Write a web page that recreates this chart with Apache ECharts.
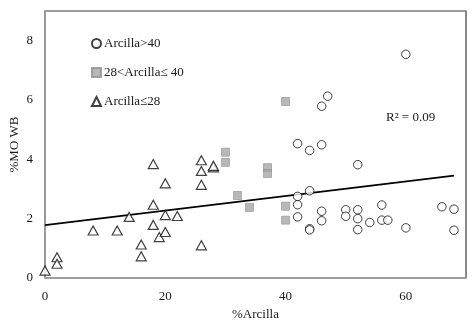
<!DOCTYPE html>
<html>
<head>
<meta charset="utf-8">
<script src="https://cdn.jsdelivr.net/npm/echarts@6/dist/echarts.min.js"></script>
<style>
  html, body { margin: 0; padding: 0; background: #fff; }
  #chart { width: 476px; height: 324px; }
</style>
</head>
<body>
<div id="chart"></div>
<script>
// ── Data ──────────────────────────────────────────────────────────────
const highClay = [   // Arcilla>40
  [42, 4.53], [42, 2.75], [42, 2.47], [42, 2.06], [44, 4.3], [44, 2.94], [44, 1.66], [44, 1.62],
  [46, 5.79], [46, 4.49], [46, 2.25], [46, 1.93], [47, 6.13], [50, 2.3], [50, 2.08],
  [52, 3.82], [52, 2.3], [52, 2.0], [52, 1.63], [54, 1.87], [56, 2.46], [56, 1.95], [57, 1.95],
  [60, 7.54], [60, 1.69], [66, 2.4], [68, 2.32], [68, 1.61]
];
const midClay = [    // 28<Arcilla≤40
  [30, 4.24], [30, 3.9], [32, 2.78], [34, 2.38], [37, 3.72], [37, 3.52], [40, 5.95], [40, 2.42], [40, 1.95]
];
const lowClay = [    // Arcilla≤28
  [0, 0.25], [2, 0.7], [2, 0.48], [8, 1.6], [12, 1.6], [14, 2.06], [16, 1.13], [16, 0.73],
  [18, 3.84], [18, 2.47], [18, 1.79], [19, 1.38], [20, 3.19], [20, 2.12], [20, 1.55], [22, 2.09],
  [26, 3.97], [26, 3.61], [26, 3.14], [26, 1.1], [28, 3.73], [28, 3.78]
];
const trendLine = [[0, 1.78], [68, 3.45]];
const seriesNames = ['Arcilla>40', '28<Arcilla\u2264 40', 'Arcilla\u226428'];
const r2Label = 'R\u00B2 = 0.09';

// ── Style ─────────────────────────────────────────────────────────────
const font = "'Liberation Serif', 'DejaVu Serif', serif";
const textColor = '#1a1a1a';
const axisGray = '#a0a0a0';
const frame = '#3a3a3a';
const squareFill = '#a6a6a6';

const chart = echarts.init(document.getElementById('chart'), null, { renderer: 'canvas' });
chart.setOption({
  animation: false,
  textStyle: { fontFamily: font, color: textColor },
  grid: {
    left: 45, right: 10, top: 11, bottom: 46,
    outerBoundsMode: 'none', containLabel: false,
    show: true, borderColor: frame, borderWidth: 1.2
  },
  legend: {
    orient: 'vertical', left: 86, top: 32, itemGap: 16,
    itemWidth: 9, itemHeight: 9,
    textStyle: { fontFamily: font, fontSize: 13, color: textColor, padding: [0, 0, 0, -2] },
    data: seriesNames
  },
  xAxis: {
    type: 'value', min: 0, max: 70, interval: 20,
    name: '%Arcilla', nameLocation: 'middle', nameGap: 28,
    nameTextStyle: { fontFamily: font, fontSize: 13, color: textColor },
    axisLine: { show: true, lineStyle: { color: axisGray, width: 1.5 } },
    axisTick: { show: false },
    splitLine: { show: false },
    axisLabel: { fontFamily: font, fontSize: 13, color: textColor, margin: 12, showMaxLabel: false }
  },
  yAxis: {
    type: 'value', min: 0, max: 9, interval: 2,
    name: '%MO WB', nameLocation: 'middle', nameGap: 24, nameRotate: 90,
    nameMoveOverlap: false,
    nameTextStyle: { fontFamily: font, fontSize: 13, color: textColor },
    axisLine: { show: true, lineStyle: { color: axisGray, width: 1.5 } },
    axisTick: { show: false },
    splitLine: { show: false },
    axisLabel: { fontFamily: font, fontSize: 13, color: textColor, margin: 12, showMaxLabel: false }
  },
  series: [
    {
      name: seriesNames[0], type: 'scatter', data: highClay,
      symbol: 'circle', symbolSize: 8.5,
      itemStyle: { color: '#fff', borderColor: '#111', borderWidth: 1 }
    },
    {
      name: seriesNames[1], type: 'scatter', data: midClay,
      symbol: 'rect', symbolSize: 8,
      itemStyle: { color: squareFill, borderColor: '#909090', borderWidth: 0.8 }
    },
    {
      name: seriesNames[2], type: 'scatter', data: lowClay,
      symbol: 'triangle', symbolSize: [10, 9],
      itemStyle: { color: '#fff', borderColor: '#111', borderWidth: 1.2 }
    },
    {
      name: 'trend', type: 'line', data: trendLine,
      showSymbol: false, symbol: 'none',
      lineStyle: { color: '#000', width: 1.8 },
      z: 1
    }
  ],
  graphic: [{
    type: 'text', left: 386, top: 111,
    style: { text: r2Label, font: '13px ' + font, fill: textColor }
  }]
});
</script>
</body>
</html>
